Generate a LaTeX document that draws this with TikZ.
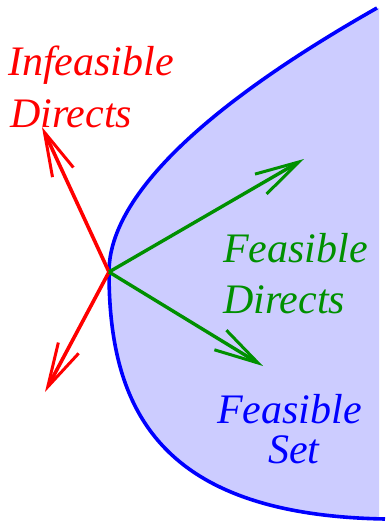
\documentclass[tikz,border=0pt]{standalone}
\usepackage{fontspec}
\newfontfamily\lblfont{Liberation Serif}
\usetikzlibrary{arrows.meta}
\definecolor{fgreen}{RGB}{0,144,0}
\definecolor{setfill}{RGB}{204,204,255}
\tikzset{
  lbl/.style={anchor=base west, inner sep=0pt, font=\lblfont\fontsize{42}{50}\selectfont\itshape},
  vec/.style={line width=3.2pt, -{Straight Barb[length=44pt,width=23pt,line width=3pt]}},
}
\begin{document}
\begin{tikzpicture}[x=1pt,y=-1pt]
\useasboundingbox (0,0) rectangle (386,522);
\coordinate (top) at (377,8);
\coordinate (v) at (109,272);
\coordinate (bot) at (385,519);
\fill[setfill] (top) .. controls (250,80) and (109,180) .. (v)
  .. controls (109,410) and (160,515) .. (bot) -- (379,519) -- (379,8) -- cycle;
\draw[blue, line width=3.6pt] (top) .. controls (250,80) and (109,180) .. (v)
  .. controls (109,410) and (160,515) .. (bot);
\coordinate (o) at (109,272);
\coordinate (ru) at (42,127);
\coordinate (rd) at (45,392);
\coordinate (gu) at (304,159);
\coordinate (gd) at (263,366);
\draw[vec, red, line width=3.6pt] (o) -- (ru);
\draw[vec, red, line width=3.6pt] (o) -- (rd);
\draw[vec, fgreen, line width=3.4pt] (o) -- (gu);
\draw[vec, fgreen, line width=3.4pt] (o) -- (gd);
\node[lbl, red] (inf1) at (8,75) {Infeasible};
\node[lbl, red] (inf2) at (10,127) {Directs};
\node[lbl, fgreen] (fd1) at (223,262) {Feasible};
\node[lbl, fgreen] (fd2) at (223,313) {Directs};
\node[lbl, blue] (fs1) at (217,423) {Feasible};
\node[lbl, blue] (fs2) at (268,463) {Set};
\end{tikzpicture}
\end{document}
